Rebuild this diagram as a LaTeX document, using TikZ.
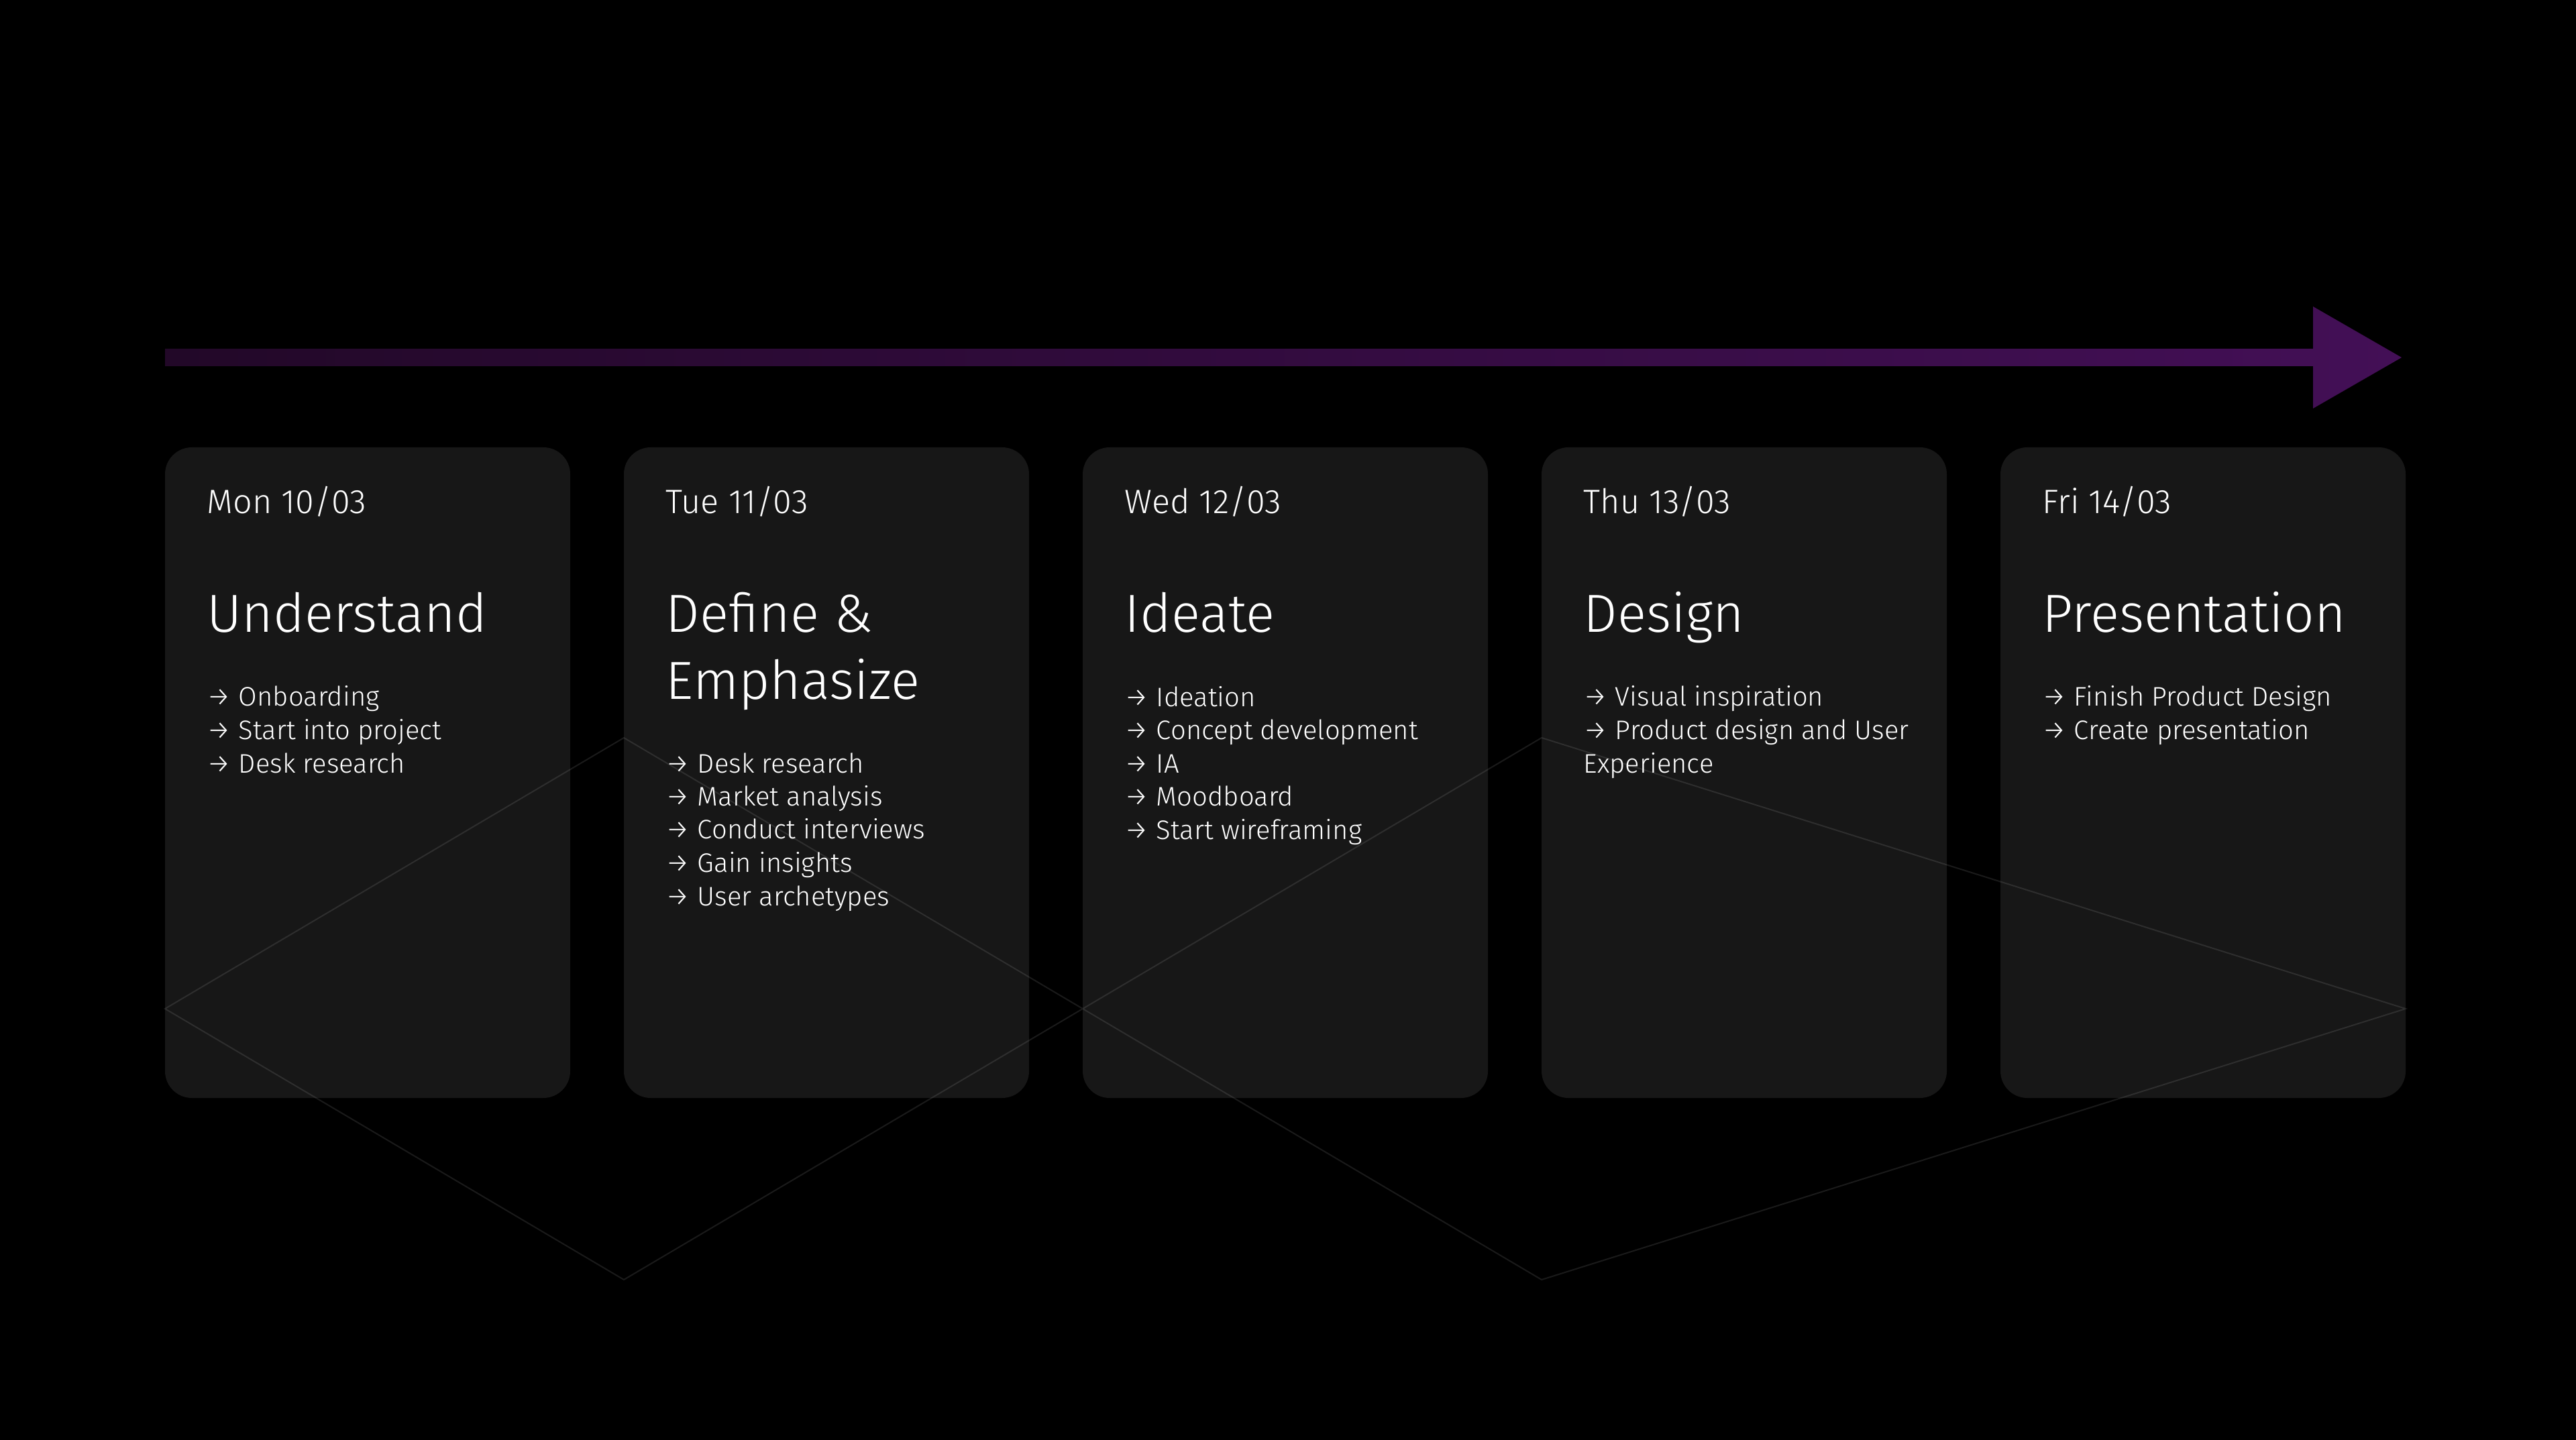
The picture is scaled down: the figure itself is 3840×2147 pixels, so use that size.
\documentclass[tikz,border=0pt]{standalone}
\usepackage{fontspec}
\setmainfont{Fira Sans Light}
\usetikzlibrary{positioning}

\definecolor{cardgray}{HTML}{171717}
\definecolor{tldark}{HTML}{220828}
\definecolor{tlpurple}{HTML}{430F56}

\tikzset{
    card/.style={fill=cardgray, rounded corners=10pt, minimum width=151pt, minimum height=242.5pt, inner sep=0pt, outer sep=0pt, anchor=north west},
    daylabel/.style={text=white, inner sep=0pt, anchor=base west, font=\fontsize{12.6}{15}\selectfont},
    phase/.style={text=white, inner sep=0pt, anchor=base west, align=left, font=\fontsize{20}{25}\selectfont},
    tasks/.style={text=white, inner sep=0pt, anchor=base west, align=left, font=\fontsize{10}{12.375}\selectfont},
    zigzag/.style={draw=white, draw opacity=0.1, line width=0.5pt},
}

\begin{document}
\begin{tikzpicture}[x=0.25pt, y=-0.25pt, node distance=20pt]
    \fill[black] (0,0) rectangle (3840,2147);

    % timeline
    \coordinate (tl_start) at (246,533);
    \coordinate (tl_end) at (3580,533);
    \shade[left color=tldark, right color=tlpurple] ([yshift=3.25pt]tl_start) -- ([xshift=-33pt, yshift=3.25pt]tl_end) -- ([xshift=-33pt, yshift=19pt]tl_end) -- (tl_end) -- ([xshift=-33pt, yshift=-19pt]tl_end) -- ([xshift=-33pt, yshift=-3.25pt]tl_end) -- ([yshift=-3.25pt]tl_start) -- cycle;

    % cards
    \node[card] (mon) at (246,667) {};
    \node[card, right=of mon] (tue) {};
    \node[card, right=of tue] (wed) {};
    \node[card, right=of wed] (thu) {};
    \node[card, right=of thu] (fri) {};

    % zigzag
    \coordinate (zz_1) at (246,1504);
    \coordinate (zz_2) at (930,1100);
    \coordinate (zz_3) at (930,1908);
    \coordinate (zz_4) at (1614,1504);
    \coordinate (zz_5) at (2298,1100);
    \coordinate (zz_6) at (2298,1908);
    \coordinate (zz_7) at (3586,1504);
    \draw[zigzag] (zz_1) -- (zz_2) -- (zz_4) -- (zz_5) -- (zz_7) -- (zz_6) -- (zz_4) -- (zz_3) -- cycle;

    \node[daylabel] (mon_date) at ([shift={(62,99)}]mon.north west) {Mon 10/03};
    \node[daylabel] (tue_date) at ([shift={(62,99)}]tue.north west) {Tue 11/03};
    \node[daylabel] (wed_date) at ([shift={(62,99)}]wed.north west) {Wed 12/03};
    \node[daylabel] (thu_date) at ([shift={(62,99)}]thu.north west) {Thu 13/03};
    \node[daylabel] (fri_date) at ([shift={(62,99)}]fri.north west) {Fri 14/03};

    % base anchor = last line
    \node[phase] (mon_phase) at ([shift={(62,276)}]mon.north west) {Understand};
    \node[phase] (tue_phase) at ([shift={(62,376)}]tue.north west) {Define \&\\Emphasize};
    \node[phase] (wed_phase) at ([shift={(62,276)}]wed.north west) {Ideate};
    \node[phase] (thu_phase) at ([shift={(62,276)}]thu.north west) {Design};
    \node[phase] (fri_phase) at ([shift={(62,276)}]fri.north west) {Presentation};

    \node[tasks] (mon_tasks) at ([shift={(62,485)}]mon.north west) {→ Onboarding\\→ Start into project\\→ Desk research};
    \node[tasks] (tue_tasks) at ([shift={(62,683)}]tue.north west) {→ Desk research\\→ Market analysis\\→ Conduct interviews\\→ Gain insights\\→ User archetypes};
    \node[tasks] (wed_tasks) at ([shift={(62,584)}]wed.north west) {→ Ideation\\→ Concept development\\→ IA\\→ Moodboard\\→ Start wireframing};
    \node[tasks] (thu_tasks) at ([shift={(62,485)}]thu.north west) {→ Visual inspiration\\→ Product design and User\\Experience};
    \node[tasks] (fri_tasks) at ([shift={(62,435.5)}]fri.north west) {→ Finish Product Design\\→ Create presentation};
\end{tikzpicture}
\end{document}
